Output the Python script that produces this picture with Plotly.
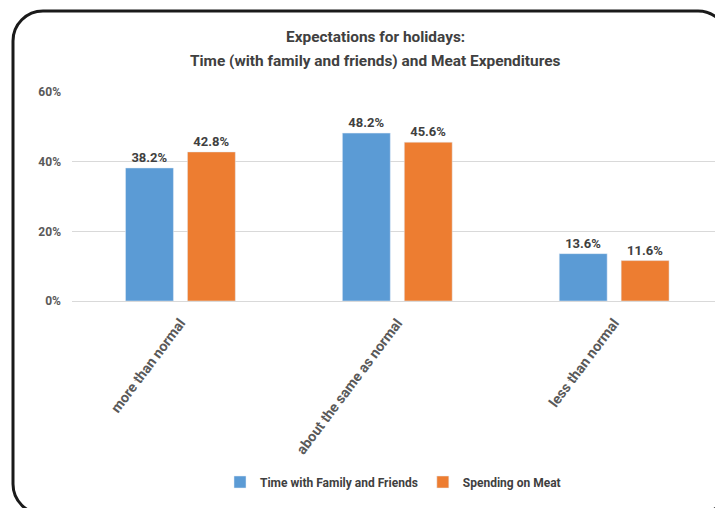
import plotly.graph_objects as go

categories = ["more than normal", "about the same as normal", "less than normal"]
time_family = [0.382, 0.482, 0.136]
spending_meat = [0.428, 0.456, 0.116]
series_names = ["Time with Family and Friends", "Spending on Meat"]

FONT = "Roboto, DejaVu Sans, sans-serif"

W, H = 715, 508
L, R, T, B = 72, 0, 92, 207

fig = go.Figure()
fig.add_trace(go.Bar(
    x=categories, y=time_family, name=series_names[0],
    marker=dict(color="#5B9BD5"),
    text=[f"{v*100:.1f}%" for v in time_family], textposition="outside",
    textfont=dict(size=13, color="#404040", family=FONT, weight="bold"),
    cliponaxis=False,
))
fig.add_trace(go.Bar(
    x=categories, y=spending_meat, name=series_names[1],
    marker=dict(color="#ED7D31"),
    text=[f"{v*100:.1f}%" for v in spending_meat], textposition="outside",
    textfont=dict(size=13, color="#404040", family=FONT, weight="bold"),
    cliponaxis=False,
))

# pixel -> paper helpers for the frame
pw = W - L - R
ph = H - T - B
def px(x):
    return (x - L) / pw
def py(y):
    return (H - B - y) / ph

left, top, right, bottom, r = 13, 11, 728, 514, 30
k = 0.5523 * r
path = (
    f"M {px(left + r)} {py(top)} L {px(right - r)} {py(top)} "
    f"C {px(right - r + k)} {py(top)} {px(right)} {py(top + r - k)} {px(right)} {py(top + r)} "
    f"L {px(right)} {py(bottom - r)} "
    f"C {px(right)} {py(bottom - r + k)} {px(right - r + k)} {py(bottom)} {px(right - r)} {py(bottom)} "
    f"L {px(left + r)} {py(bottom)} "
    f"C {px(left + r - k)} {py(bottom)} {px(left)} {py(bottom - r + k)} {px(left)} {py(bottom - r)} "
    f"L {px(left)} {py(top + r)} "
    f"C {px(left)} {py(top + r - k)} {px(left + r - k)} {py(top)} {px(left + r)} {py(top)} Z"
)
fig.add_shape(type="path", path=path, xref="paper", yref="paper",
              line=dict(color="#1a1a1a", width=3), layer="above")

fig.add_annotation(text="Expectations for holidays:", xref="paper", yref="paper",
                   x=px(375), y=py(37), showarrow=False, xanchor="center", yanchor="middle",
                   font=dict(size=15.4, color="#404040", family=FONT, weight="bold"))
fig.add_annotation(text="Time (with family and friends) and Meat Expenditures", xref="paper", yref="paper",
                   x=px(375), y=py(61), showarrow=False, xanchor="center", yanchor="middle",
                   font=dict(size=15.4, color="#404040", family=FONT, weight="bold"))

fig.update_layout(
    width=W, height=H,
    margin=dict(l=L, r=R, t=T, b=B),
    paper_bgcolor="white", plot_bgcolor="white",
    barmode="group", bargap=0.429, bargroupgap=0.226,
    font=dict(family=FONT, color="#595959"),
    showlegend=True,
    legend=dict(orientation="h", x=px(393), y=py(482), xanchor="center", yanchor="middle",
                font=dict(size=12, color="#404040", family=FONT, weight="bold"),
                itemwidth=30, tracegroupgap=0),
)
fig.update_xaxes(
    range=[-0.5, 2.465], showgrid=False, showline=False, zeroline=False,
    tickangle=-53, ticks="", ticklabelstandoff=10,
    tickfont=dict(size=14.2, color="#595959", family=FONT, weight="bold"),
)
fig.update_yaxes(
    range=[0, 0.6], dtick=0.2, tickformat=".0%",
    showgrid=True, gridcolor="#D9D9D9", gridwidth=1,
    zeroline=True, zerolinecolor="#D9D9D9", zerolinewidth=1,
    showline=False, ticks="", ticklabelstandoff=10,
    tickfont=dict(size=12, color="#595959", family=FONT, weight="bold"),
)

fig.write_html("out.html")
